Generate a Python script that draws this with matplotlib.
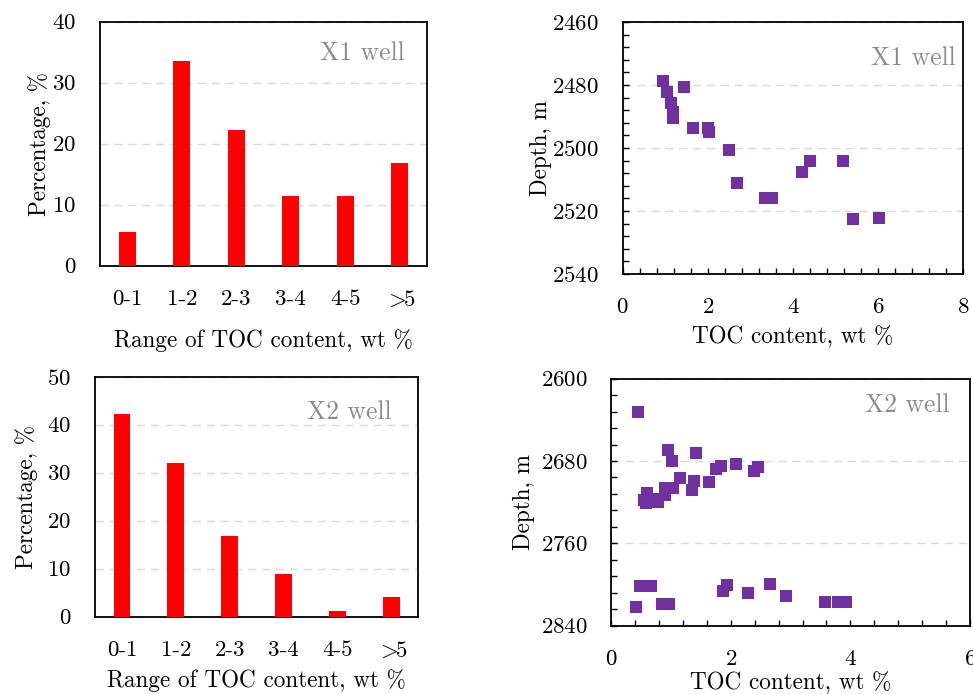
import numpy as np
import matplotlib
matplotlib.use('Agg')
import matplotlib.pyplot as plt
from matplotlib.ticker import MultipleLocator

plt.rcParams['font.family'] = ['cmr10', 'DejaVu Serif']
plt.rcParams['mathtext.fontset'] = 'cm'
plt.rcParams['axes.formatter.use_mathtext'] = True

# TOC range histograms
ranges = ['0-1', '1-2', '2-3', '3-4', '4-5', r'$>\!\!$5']
x1_pct = [5.6, 33.6, 22.3, 11.5, 11.5, 16.8]
x2_pct = [42.3, 32.0, 16.9, 8.8, 1.1, 4.1]

# X1 well: TOC vs depth
x1_toc = [0.94, 1.04, 1.13, 1.17, 1.17, 1.43, 1.66, 2.00, 2.03, 2.49, 2.68,
          3.35, 3.51, 4.22, 4.40, 5.18, 5.40, 6.01]
x1_depth = [2478.7, 2482.3, 2485.6, 2488.5, 2490.6, 2480.5, 2493.8, 2493.8,
            2495.0, 2500.5, 2511.0, 2516.0, 2516.0, 2507.7, 2504.0, 2504.0,
            2522.6, 2522.2]

# X2 well: TOC vs depth
x2_toc = [0.45, 0.96, 1.02, 1.42, 1.15, 1.38, 1.36, 1.63, 1.76, 1.84, 2.08,
          2.39, 2.46, 1.04, 0.91, 0.91, 0.60, 0.55, 0.58, 0.78, 0.72,
          0.48, 0.66, 0.42, 0.85, 0.97, 1.87, 1.93, 2.29, 2.66, 2.93,
          3.57, 3.79, 3.93]
x2_depth = [2632.7, 2669.3, 2680.0, 2672.0, 2697.0, 2699.0, 2708.0, 2700.0,
            2687.5, 2685.0, 2682.6, 2690.0, 2685.5, 2706.5, 2706.5, 2713.0,
            2711.4, 2718.0, 2721.0, 2719.5, 2717.0,
            2802.0, 2802.0, 2821.6, 2819.0, 2819.0, 2806.0, 2800.5, 2808.0,
            2799.5, 2811.5, 2816.6, 2816.6, 2816.6]

grid_kw = dict(color='#dadada', linestyle=(0, (6, 4)), linewidth=1.0)
label_fs = 16.7
tick_fs = 16.5
well_fs = 18.5
well_color = '#8c8c8c'

fig = plt.figure(figsize=(9.73, 6.94), dpi=100)


def bar_panel(rect, values, ymax, name, tx, ty, xpad, ypad):
    ax = fig.add_axes(rect)
    pos = np.arange(len(ranges))
    ax.bar(pos, values, width=0.31, color='#ff0000', zorder=3)
    ax.set_xlim(-0.5, 5.5)
    ax.set_ylim(0, ymax)
    ax.set_xticks(pos)
    ax.set_xticklabels(ranges)
    ax.yaxis.set_major_locator(MultipleLocator(10))
    ax.tick_params(axis='both', length=0, labelsize=tick_fs, pad=17)
    ax.yaxis.grid(True, **grid_kw)
    ax.set_axisbelow(True)
    for s in ax.spines.values():
        s.set_linewidth(1.3)
    ax.set_xlabel('Range of TOC content, wt %', fontsize=label_fs, labelpad=xpad)
    ax.set_ylabel('Percentage, %', fontsize=label_fs, labelpad=ypad)
    ax.text(tx, ty, name, transform=ax.transAxes, ha='right', va='center',
            fontsize=well_fs, color=well_color)
    return ax


def scatter_panel(rect, toc, depth, xmax, ylims, ystep, name, tx, ty, xpad, ypad):
    ax = fig.add_axes(rect)
    ax.plot(toc, depth, 's', color='#7030a0', markersize=8,
            markeredgewidth=0, zorder=3)
    ax.set_xlim(0, xmax)
    ax.set_ylim(ylims[1], ylims[0])
    ax.xaxis.set_major_locator(MultipleLocator(2))
    ax.xaxis.set_minor_locator(MultipleLocator(0.4))
    ax.set_yticks(np.arange(ylims[0], ylims[1] + 1, ystep))
    ax.set_yticks(np.arange(ylims[0], ylims[1] + 1, ystep / 5), minor=True)
    ax.tick_params(axis='both', which='both', direction='in', length=4,
                   width=1.0, labelsize=tick_fs, pad=17)
    ax.yaxis.grid(True, **grid_kw)
    ax.set_axisbelow(True)
    for s in ax.spines.values():
        s.set_linewidth(1.3)
    ax.set_xlabel('TOC content, wt %', fontsize=label_fs, labelpad=xpad)
    ax.set_ylabel('Depth, m', fontsize=label_fs, labelpad=ypad)
    ax.text(tx, ty, name, transform=ax.transAxes, ha='right', va='center',
            fontsize=well_fs, color=well_color)
    return ax


bar_panel([0.1028, 0.6171, 0.3360, 0.3516], x1_pct, 40, 'X1 well',
          0.933, 0.873, 14, 1)
bar_panel([0.0976, 0.1114, 0.3323, 0.3458], x2_pct, 50, 'X2 well',
          0.918, 0.854, 6, 7)
scatter_panel([0.6400, 0.6052, 0.3500, 0.3631], x1_toc, x1_depth, 8,
              (2460, 2540), 20, 'X1 well', 0.979, 0.857, 6, 0)
scatter_panel([0.6280, 0.0986, 0.3690, 0.3557], x2_toc, x2_depth, 6,
              (2600, 2840), 80, 'X2 well', 0.9416, 0.891, 2, 4)

fig.savefig('out.png', dpi=100)
